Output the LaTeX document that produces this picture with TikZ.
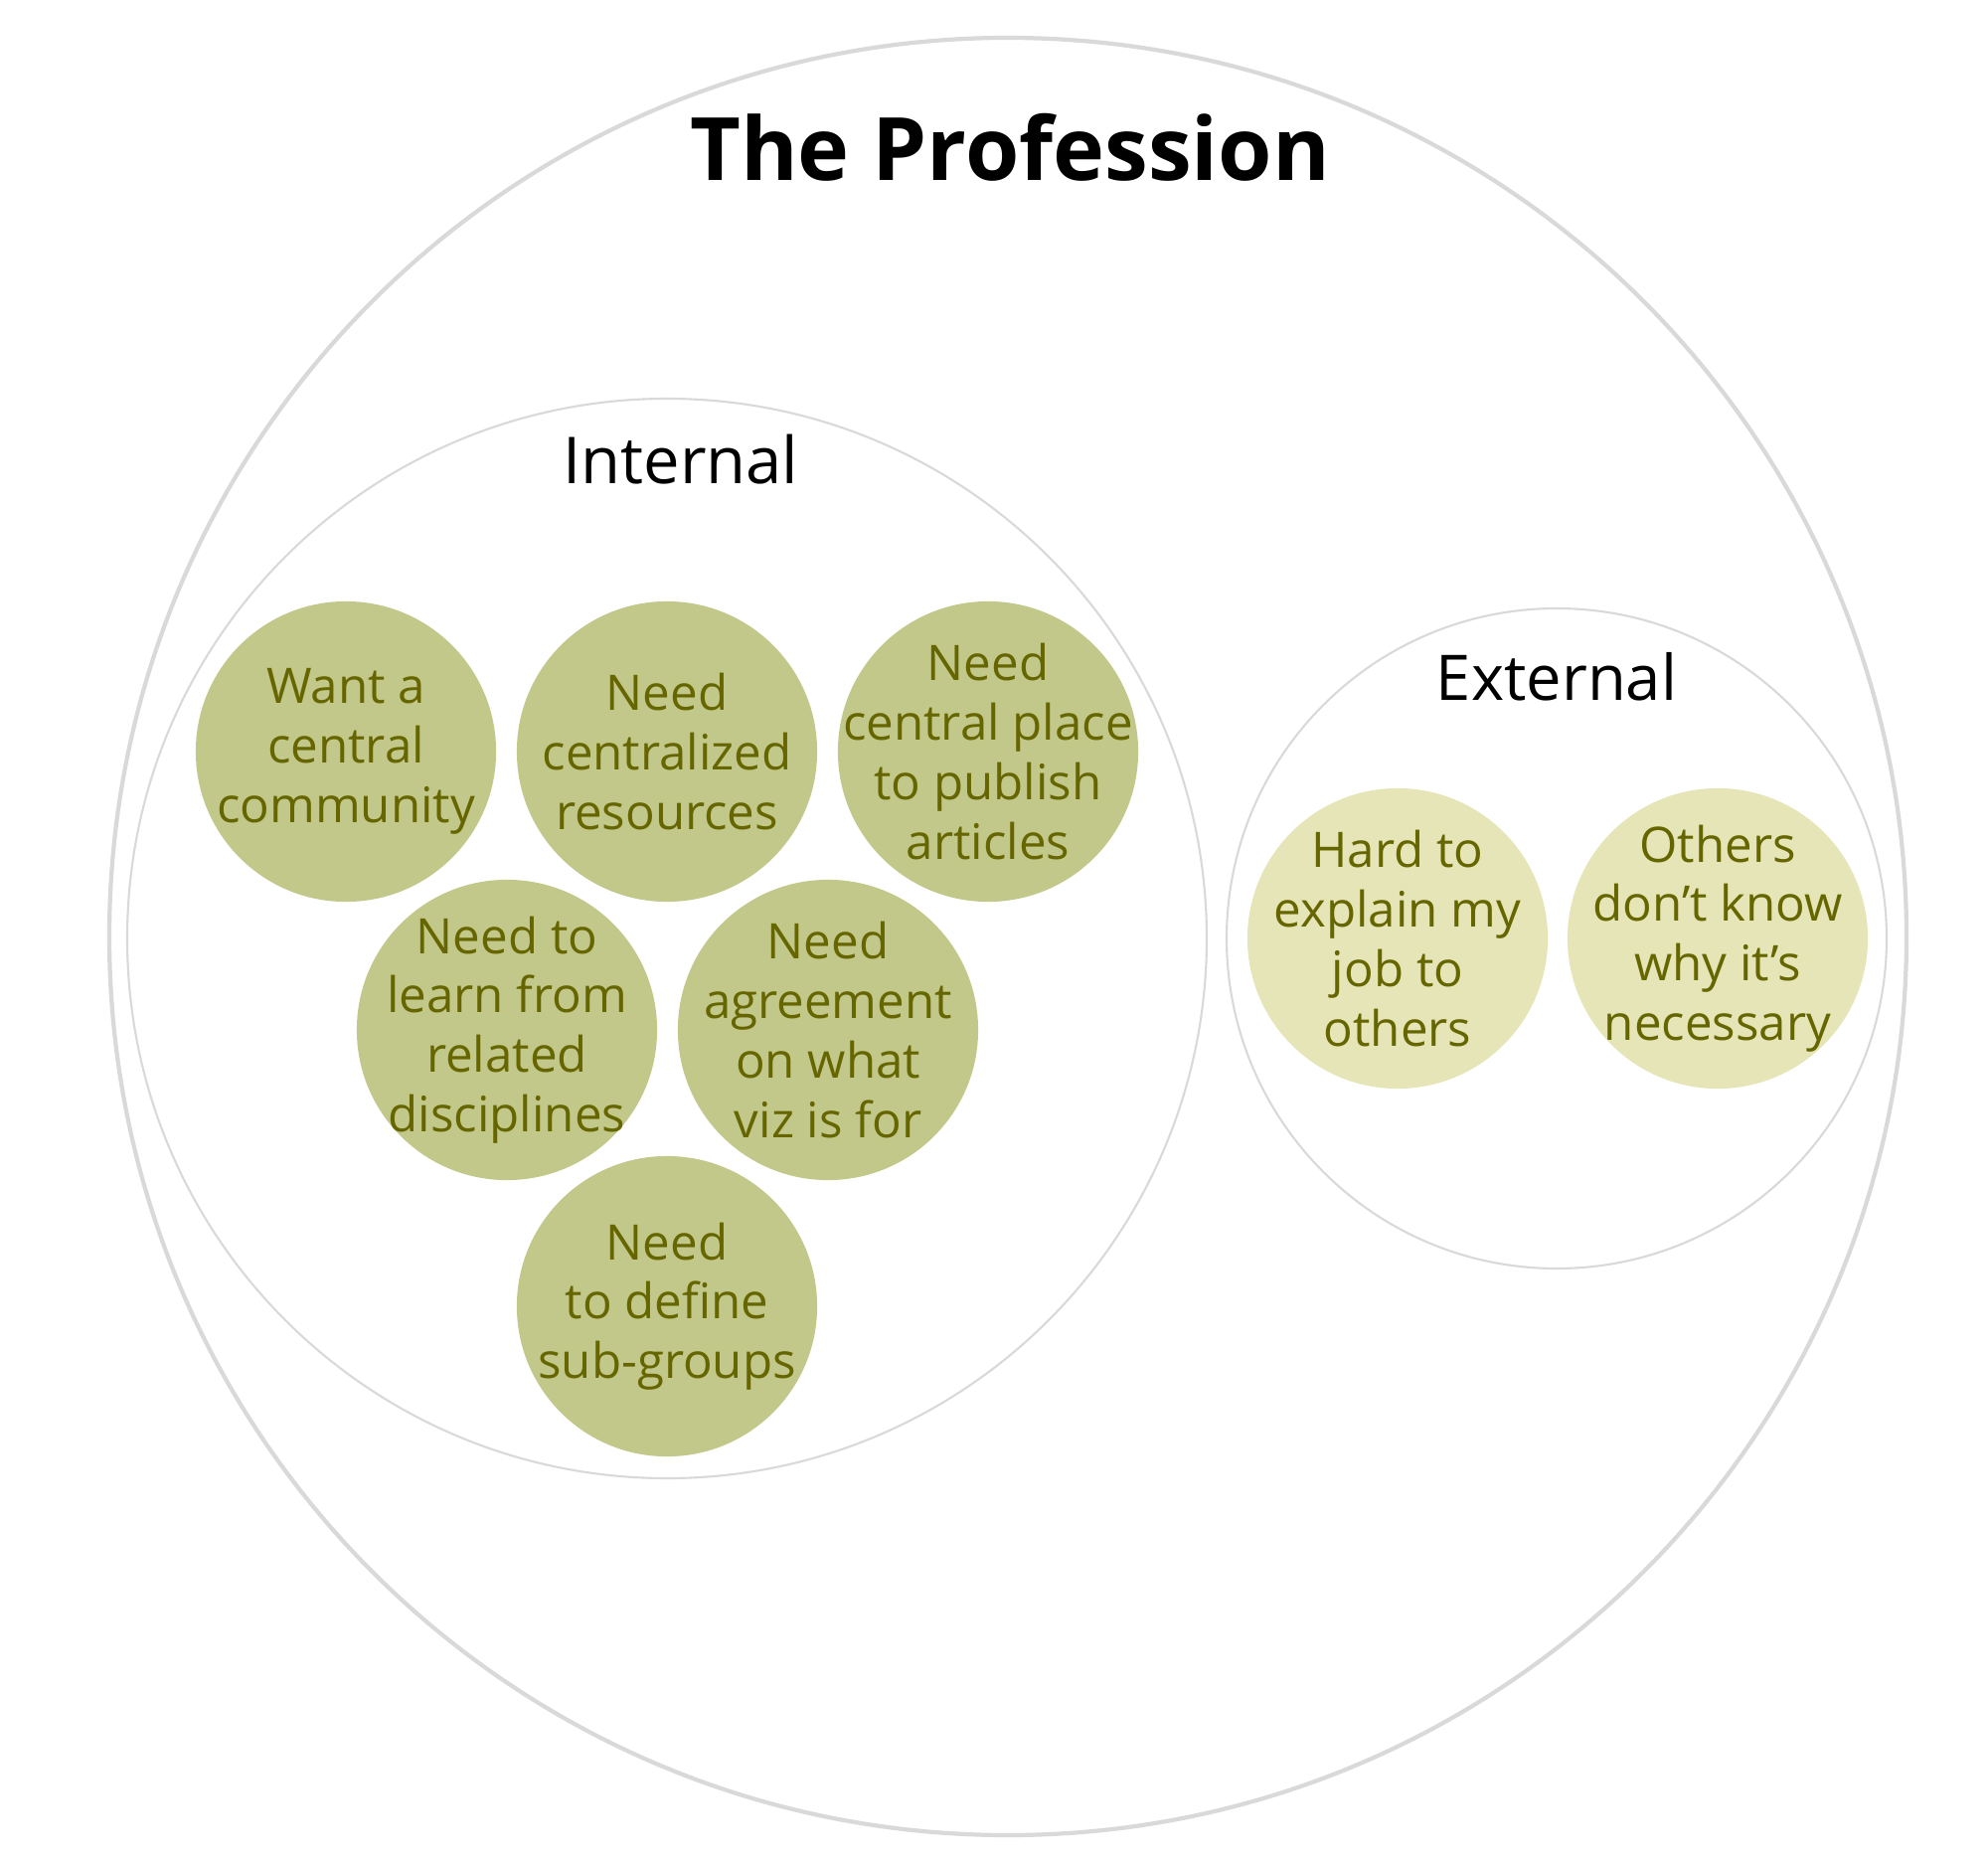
\documentclass[tikz,border=0pt]{standalone}
\usepackage{fontspec}
\setmainfont{Open Sans}
\usepackage{xcolor}
\definecolor{ringgray}{HTML}{D9D9D9}
\definecolor{olivefill}{HTML}{C2C78A}
\definecolor{palefill}{HTML}{E5E5B8}
\definecolor{olivetext}{HTML}{666600}

\begin{document}
\begin{tikzpicture}[x=0.01cm, y=-0.01cm,
    need/.style={circle, fill=olivefill, minimum size=3.02cm, inner sep=-25pt,
        align=center, text=olivetext, font=\fontsize{14}{17}\selectfont},
    outside/.style={need, fill=palefill}]
    \useasboundingbox (0,0) rectangle (2000,1873);

    % rings
    \draw[ringgray, line width=1.2pt] (1014,942) circle[radius=904];
    \draw[ringgray, line width=0.6pt] (671,944) circle[radius=543];
    \draw[ringgray, line width=0.6pt] (1566,944) circle[radius=332];

    % headings
    \node[anchor=base, font=\fontsize{25}{30}\selectfont\bfseries] (title) at (1016,182) {The Profession};
    \node[anchor=base, font=\fontsize{18.5}{22}\selectfont] (internal) at (685,486) {Internal};
    \node[anchor=base, font=\fontsize{18}{22}\selectfont] (external) at (1566,704) {External};

    % internal needs
    \node[need] (community) at (348,756) {Want a\\central\\community};
    \node[need] (resources) at (671,756) {Need\\centralized\\resources};
    \node[need] (publish) at (994,756) {Need\\central place\\to publish\\articles};
    \node[need] (learn) at (510,1036) {Need to\\learn from\\related\\disciplines};
    \node[need] (agree) at (833,1036) {Need\\agreement\\on what\\viz is for};
    \node[need] (subgroups) at (671,1314) {Need\\to define\\sub-groups};

    % external needs
    \node[outside] (explain) at (1406,944) {Hard to\\explain my\\job to\\others};
    \node[outside] (others) at (1728,944) {Others\\don’t know\\why it’s\\necessary};
\end{tikzpicture}
\end{document}
